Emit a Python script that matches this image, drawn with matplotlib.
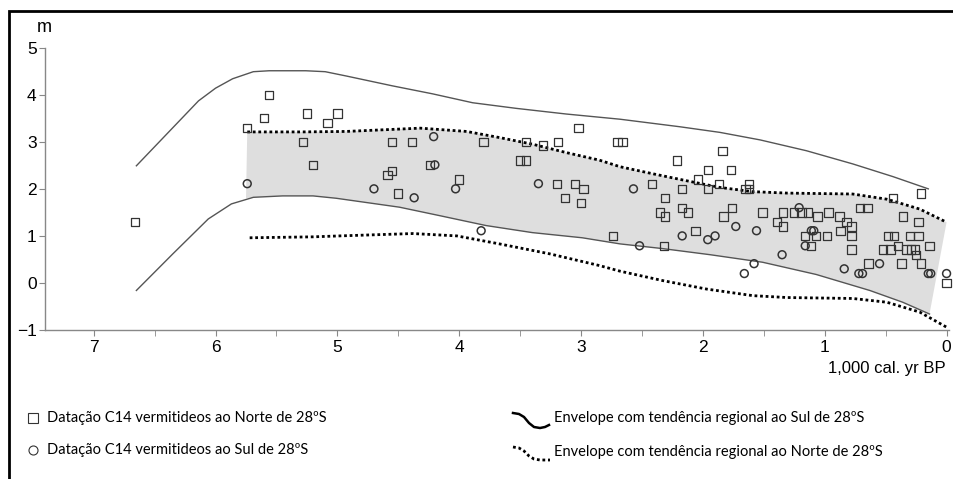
import matplotlib
matplotlib.use("Agg")
import matplotlib.pyplot as plt
from matplotlib.patches import Rectangle
import numpy as np

plt.rcParams["font.family"] = ["Liberation Sans", "DejaVu Sans"]

# C14 dates, north of 28S (squares): age (ka cal BP), height (m)
norte_x = [6.66, 5.74, 5.56, 5.60, 5.25, 5.00, 5.08, 5.28, 5.20, 4.55, 4.39, 4.24,
           4.59, 4.55, 4.50, 4.00, 3.80, 3.50, 3.45, 3.45, 3.31, 3.19, 3.02, 2.70,
           2.66, 3.20, 3.05, 2.98, 3.13, 3.00, 2.74, 1.84, 2.21, 1.96, 1.77, 2.04,
           2.42, 2.17, 1.96, 1.87, 1.62, 1.65, 1.62, 2.31, 2.17, 2.12, 2.35, 2.31,
           1.83, 1.76, 2.06, 2.32, 1.51, 1.34, 1.25, 1.19, 1.14, 1.39, 1.34, 1.06,
           0.97, 0.88, 0.82, 0.78, 0.71, 0.65, 0.87, 0.78, 1.16, 1.07, 0.98, 1.11,
           0.78, 0.64, 0.44, 0.21, 0.36, 0.23, 0.48, 0.43, 0.30, 0.23, 0.52, 0.46,
           0.33, 0.29, 0.26, 0.25, 0.40, 0.14, 0.37, 0.21, 0.00]
norte_y = [1.30, 3.30, 4.00, 3.50, 3.60, 3.60, 3.40, 3.00, 2.50, 3.00, 3.00, 2.50,
           2.30, 2.38, 1.90, 2.20, 3.00, 2.60, 2.60, 3.00, 2.92, 3.00, 3.30, 3.00,
           3.00, 2.10, 2.10, 2.00, 1.80, 1.70, 1.00, 2.81, 2.60, 2.40, 2.40, 2.20,
           2.10, 2.00, 2.00, 2.10, 2.10, 2.00, 2.00, 1.80, 1.60, 1.50, 1.50, 1.41,
           1.41, 1.60, 1.11, 0.79, 1.50, 1.50, 1.50, 1.50, 1.50, 1.30, 1.20, 1.41,
           1.50, 1.41, 1.30, 1.20, 1.60, 1.60, 1.11, 1.00, 1.00, 1.00, 1.00, 0.79,
           0.71, 0.41, 1.80, 1.90, 1.41, 1.30, 1.00, 1.00, 1.00, 1.00, 0.71, 0.71,
           0.71, 0.71, 0.71, 0.60, 0.79, 0.79, 0.41, 0.41, 0.00]

# C14 dates, south of 28S (circles)
sul_x = [5.74, 4.70, 4.37, 4.21, 4.20, 4.03, 3.82, 3.35, 2.57, 2.52, 2.17, 1.96,
         1.90, 1.73, 1.56, 1.58, 1.66, 1.35, 1.21, 1.11, 1.09, 1.16, 0.84, 0.72,
         0.69, 0.55, 0.15, 0.13, 0.00]
sul_y = [2.11, 2.00, 1.81, 3.11, 2.51, 2.00, 1.11, 2.11, 2.00, 0.79, 1.00, 0.92,
         1.00, 1.20, 1.11, 0.41, 0.20, 0.60, 1.60, 1.11, 1.11, 0.79, 0.30, 0.20,
         0.20, 0.41, 0.20, 0.20, 0.20]

# regional trend envelope, south of 28S (solid)
sul_up_x = [6.65, 6.14, 6.00, 5.86, 5.69, 5.56, 5.26, 5.10, 4.93, 4.55, 4.22, 3.89,
            3.53, 3.12, 2.68, 2.19, 1.86, 1.53, 1.15, 0.77, 0.44, 0.15]
sul_up_y = [2.49, 3.87, 4.14, 4.34, 4.49, 4.51, 4.51, 4.49, 4.40, 4.19, 4.02, 3.83,
            3.71, 3.59, 3.48, 3.32, 3.20, 3.04, 2.81, 2.53, 2.26, 2.00]
sul_lo_x = [6.65, 6.35, 6.06, 5.87, 5.69, 5.45, 5.20, 5.01, 4.49, 4.16, 3.78, 3.40,
            2.99, 2.68, 2.33, 1.94, 1.51, 1.07, 0.63, 0.36, 0.14]
sul_lo_y = [-0.16, 0.62, 1.36, 1.68, 1.82, 1.85, 1.85, 1.80, 1.61, 1.43, 1.22, 1.07,
            0.96, 0.83, 0.73, 0.60, 0.44, 0.18, -0.16, -0.41, -0.66]

# regional trend envelope, north of 28S (dotted)
norte_up_x = [5.74, 5.30, 4.93, 4.32, 3.94, 3.67, 3.40, 3.12, 2.85, 2.68, 2.41,
              2.13, 1.86, 1.59, 1.31, 0.77, 0.49, 0.22, 0.00]
norte_up_y = [3.21, 3.21, 3.22, 3.29, 3.22, 3.09, 2.95, 2.77, 2.61, 2.47, 2.32,
              2.17, 2.03, 1.94, 1.91, 1.89, 1.78, 1.57, 1.29]
norte_lo_x = [5.72, 5.20, 4.98, 4.38, 4.02, 3.67, 3.26, 2.85, 2.68, 2.33, 1.97,
              1.59, 1.31, 0.77, 0.49, 0.22, 0.00]
norte_lo_y = [0.96, 0.98, 1.00, 1.05, 1.00, 0.83, 0.62, 0.37, 0.25, 0.05, -0.13,
              -0.27, -0.31, -0.33, -0.41, -0.62, -0.94]

x_ticks = [7, 6, 5, 4, 3, 2, 1, 0]
y_ticks = [-1, 0, 1, 2, 3, 4, 5]

fig = plt.figure(figsize=(9.54, 4.79), dpi=100)
ax = fig.add_axes([45 / 954, 1 - 330 / 479, 904 / 954, (330 - 47.7) / 479])

# shaded band: north upper trend on top, south lower envelope at bottom
lo_x = [x for x in sul_lo_x if x <= 5.74]
lo_y = [y for x, y in zip(sul_lo_x, sul_lo_y) if x <= 5.74]
poly_x = norte_up_x + lo_x[::-1] + [5.75]
poly_y = norte_up_y + lo_y[::-1] + [1.80]
ax.fill(poly_x, poly_y, color="#dedede", lw=0, zorder=1)

ax.plot(sul_up_x, sul_up_y, color="#555555", lw=1.0, zorder=2)
ax.plot(sul_lo_x, sul_lo_y, color="#555555", lw=1.0, zorder=2)
ax.plot(norte_up_x, norte_up_y, color="black", lw=2.0, ls=(0, (1, 1)), zorder=2)
ax.plot(norte_lo_x, norte_lo_y, color="black", lw=2.0, ls=(0, (1, 1)), zorder=2)

ax.scatter(norte_x, norte_y, marker="s", s=36, facecolor="none",
           edgecolor="#333333", linewidth=0.9, zorder=3, clip_on=False)
ax.scatter(sul_x, sul_y, marker="o", s=32, facecolor="none",
           edgecolor="#333333", linewidth=1.1, zorder=3, clip_on=False)

ax.set_xlim(7.40, -0.02)
ax.set_ylim(-1, 5)
ax.set_xticks(x_ticks)
ax.set_xticks(np.arange(0.5, 7.5, 1.0), minor=True)
ax.set_yticks(y_ticks)
for s in ["top", "right"]:
    ax.spines[s].set_visible(False)
for s in ["left", "bottom"]:
    ax.spines[s].set_color("#888888")
    ax.spines[s].set_linewidth(1.0)
ax.tick_params(which="both", direction="out", color="#888888", length=4,
               labelsize=12.5, labelcolor="black", pad=3)
ax.tick_params(axis="y", pad=2)

fig.text(37 / 954, 1 - 28 / 479, "m", fontsize=13, va="center", ha="left")
fig.text(946 / 954, 1 - 369 / 479, "1,000 cal. yr BP", fontsize=12,
         va="center", ha="right")

# legend drawn in pixel space below the axes
leg = fig.add_axes([0, 0, 1, 1], facecolor="none")
leg.set_xlim(0, 954)
leg.set_ylim(479, 0)
leg.axis("off")
lfont = dict(family=["Lato", "DejaVu Sans"], fontsize=10.5, va="center", ha="left")
leg.plot([33], [418], marker="s", ms=6.5, mfc="none", mec="#333333", mew=0.8)
leg.plot([33], [450], marker="o", ms=6.5, mfc="none", mec="#333333", mew=0.8)
leg.text(47, 418, "Datação C14 vermitideos ao Norte de 28ºS", **lfont)
leg.text(47, 450, "Datação C14 vermitideos ao Sul de 28ºS", **lfont)
leg.plot([513, 519, 524, 529, 534, 540, 545, 549],
         [413, 414, 417, 423, 427, 428, 427, 425], color="black", lw=1.8)
leg.plot([513, 519, 524, 529, 534, 540, 545, 550],
         [447, 448, 451, 456, 459, 460, 460, 460], color="black", lw=2.0,
         ls=(0, (1, 1)))
leg.text(554, 418, "Envelope com tendência regional ao Sul de 28ºS", **lfont)
leg.text(554, 452, "Envelope com tendência regional ao Norte de 28ºS", **lfont)

# outer frame (top and left edges visible)
fig.add_artist(Rectangle((9 / 954, -0.1), 1.2, 1 - 11 / 479 + 0.1,
                         transform=fig.transFigure, fill=False,
                         edgecolor="black", lw=2))

fig.savefig("out.png", dpi=100)
